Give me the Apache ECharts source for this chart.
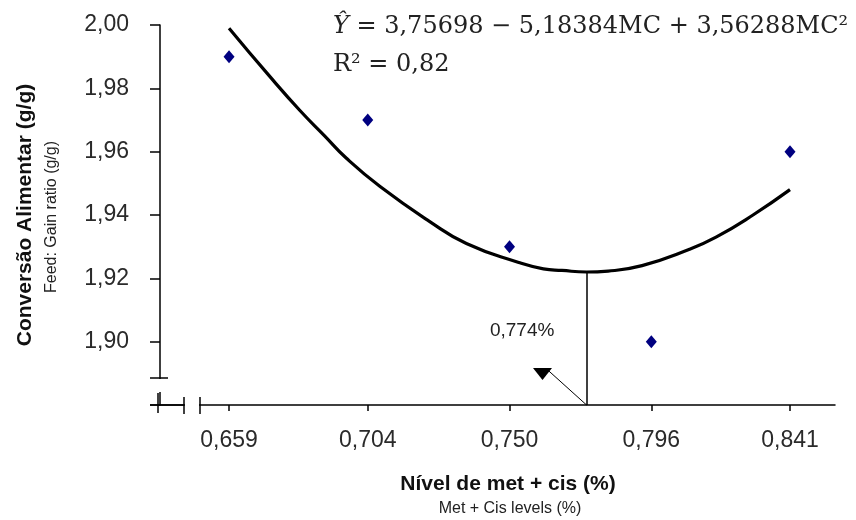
<!DOCTYPE html>
<html>
<head>
<meta charset="utf-8">
<title>Conversão alimentar x nível de met + cis</title>
<script src="https://cdn.jsdelivr.net/npm/echarts@6/dist/echarts.min.js"></script>
<style>
html, body { margin: 0; padding: 0; background: #fff; }
#chart { width: 856px; height: 520px; }
</style>
</head>
<body>
<div id="chart"></div>
<script>
// níveis de met + cis (%) e conversão alimentar observada (g/g)
var levels = [0.659, 0.704, 0.750, 0.796, 0.841];
var observed = [1.99, 1.97, 1.93, 1.90, 1.96];
var xTickLabels = ['0,659', '0,704', '0,750', '0,796', '0,841'];
var yTicks = [1.90, 1.92, 1.94, 1.96, 1.98, 2.00];

// curva ajustada
var curveX = [0.659, 0.672, 0.682, 0.690, 0.697, 0.708, 0.724, 0.736, 0.753, 0.761, 0.767, 0.775, 0.782, 0.793, 0.808, 0.817, 0.829, 0.841];
var curveY = [1.999, 1.984, 1.973, 1.965, 1.958, 1.949, 1.938, 1.931, 1.925, 1.923, 1.9225, 1.922, 1.9223, 1.924, 1.929, 1.933, 1.940, 1.948];

// ponto ótimo e anotação
var optimumX = 0.775;
var optimumY = 1.922;
var arrowTip = [0.7628, 1.8907];
var arrowHead = [0.7607, 1.8898];
var optimumLabelPos = [0.7541, 1.9034];

var X_MIN = 0.6366, X_MAX = 0.8556;
var Y_MIN = 1.88, Y_MAX = 2.00;

var chart = echarts.init(document.getElementById('chart'));

var curveData = curveX.map(function (x, i) { return [x, curveY[i]]; });
var pointData = levels.map(function (x, i) { return [x, observed[i]]; });

function fmt(v, d) {
  return v.toFixed(d).replace('.', ',');
}

var texts = [
  {
    id: 'eq', type: 'text', left: 333, top: 15, z: 50,
    style: {
      text: '{i|Ŷ} = 3,75698 − 5,18384MC + 3,56288MC²',
      font: '24px "DejaVu Serif"',
      fill: '#222',
      rich: { i: { fontStyle: 'italic', fontFamily: 'DejaVu Serif', fontSize: 24, color: '#222' } }
    }
  },
  {
    id: 'r2', type: 'text', left: 333, top: 53, z: 50,
    style: { text: 'R² = 0,82', font: '24px "DejaVu Serif"', fill: '#222' }
  },
  {
    id: 'xname', type: 'text', x: 508, y: 484, z: 50,
    style: { text: 'Nível de met + cis (%)', font: 'bold 21px "Liberation Sans"', fill: '#111', align: 'center', verticalAlign: 'middle' }
  },
  {
    id: 'xsub', type: 'text', x: 510, y: 509, z: 50,
    style: { text: 'Met + Cis levels (%)', font: 'normal 16px "Liberation Sans"', fill: '#222', align: 'center', verticalAlign: 'middle' }
  },
  {
    id: 'yname', type: 'text', x: 25, y: 215, rotation: Math.PI / 2, z: 50,
    style: { text: 'Conversão Alimentar (g/g)', font: 'bold 21px "Liberation Sans"', fill: '#111', align: 'center', verticalAlign: 'middle' }
  },
  {
    id: 'ysub', type: 'text', x: 52, y: 217, rotation: Math.PI / 2, z: 50,
    style: { text: 'Feed: Gain ratio (g/g)', font: 'normal 16px "Liberation Sans"', fill: '#222', align: 'center', verticalAlign: 'middle' }
  }
];

var option = {
  backgroundColor: '#fff',
  animation: false,
  grid: { left: 160, right: 21, top: 25, bottom: 115 },
  xAxis: {
    type: 'value',
    min: X_MIN,
    max: X_MAX,
    splitLine: { show: false },
    axisLine: { show: true, lineStyle: { color: '#000', width: 1.5 } },
    axisTick: { show: true, length: 6, customValues: levels, lineStyle: { color: '#000', width: 1.5 } },
    axisLabel: {
      customValues: levels,
      margin: 24,
      color: '#2a2a2a',
      fontFamily: 'Liberation Sans',
      fontSize: 23,
      formatter: function (v) {
        var i = levels.indexOf(v);
        return i >= 0 ? xTickLabels[i] : '';
      }
    }
  },
  yAxis: {
    type: 'value',
    min: Y_MIN,
    max: Y_MAX,
    interval: 0.02,
    splitLine: { show: false },
    axisLine: { show: true, lineStyle: { color: '#000', width: 1.5 } },
    axisTick: { show: true, length: 10, lineStyle: { color: '#000', width: 1.5 } },
    axisLabel: {
      margin: 31,
      color: '#2a2a2a',
      fontFamily: 'Liberation Sans',
      fontSize: 23,
      formatter: function (v) {
        for (var i = 0; i < yTicks.length; i++) {
          if (Math.abs(yTicks[i] - v) < 1e-6) return fmt(v, 2);
        }
        return '';
      }
    }
  },
  series: [
    {
      type: 'line',
      data: curveData,
      smooth: 0.5,
      symbol: 'none',
      lineStyle: { color: '#000', width: 3.2 },
      z: 3,
      markLine: {
        silent: true,
        symbol: ['none', 'none'],
        label: { show: false },
        lineStyle: { color: '#000', type: 'solid' },
        data: [
          [{ coord: [optimumX, optimumY], lineStyle: { width: 1.5 } }, { coord: [optimumX, Y_MIN] }],
          [{ coord: [optimumX, Y_MIN], lineStyle: { width: 1 } }, { coord: arrowTip }]
        ]
      },
      markPoint: {
        silent: true,
        data: [
          {
            coord: arrowHead,
            symbol: 'triangle',
            symbolRotate: 180,
            symbolSize: [19, 12],
            itemStyle: { color: '#000' },
            label: { show: false }
          },
          {
            coord: optimumLabelPos,
            symbol: 'circle',
            symbolSize: 0,
            label: {
              show: true,
              position: 'inside',
              formatter: '0,774%',
              color: '#222',
              fontFamily: 'Liberation Sans',
              fontSize: 19
            }
          }
        ]
      }
    },
    {
      type: 'scatter',
      data: pointData,
      symbol: 'diamond',
      symbolSize: [11, 13],
      itemStyle: { color: '#000080', opacity: 1 },
      z: 4
    }
  ],
  graphic: texts
};

chart.setOption(option);

// quebra dos eixos (posições tiradas do próprio eixo)
var corner = chart.convertToPixel({ gridIndex: 0 }, [X_MIN, Y_MIN]);
var cx = Math.round(corner[0]), cy = Math.round(corner[1]);
var ln = { stroke: '#000', lineWidth: 1.5 };
var breaks = [
  { id: 'gapY', type: 'rect', z: 60, shape: { x: cx - 6, y: cy - 26, width: 12, height: 13 }, style: { fill: '#fff' } },
  { id: 'gapX', type: 'rect', z: 60, shape: { x: cx + 25, y: cy - 3, width: 14, height: 6 }, style: { fill: '#fff' } },
  { id: 'capY', type: 'line', z: 61, shape: { x1: cx - 10, y1: cy - 27, x2: cx + 8, y2: cy - 27 }, style: ln },
  { id: 'stubX', type: 'line', z: 61, shape: { x1: cx - 10, y1: cy, x2: cx + 24, y2: cy }, style: ln },
  { id: 'stubY', type: 'line', z: 61, shape: { x1: cx - 2, y1: cy - 12, x2: cx - 2, y2: cy + 8 }, style: ln },
  { id: 'brk1', type: 'line', z: 61, shape: { x1: cx + 24, y1: cy - 8, x2: cx + 24, y2: cy + 9 }, style: ln },
  { id: 'brk2', type: 'line', z: 61, shape: { x1: cx + 40, y1: cy - 8, x2: cx + 40, y2: cy + 9 }, style: ln }
];
chart.setOption({ graphic: texts.concat(breaks) });
</script>
</body>
</html>
